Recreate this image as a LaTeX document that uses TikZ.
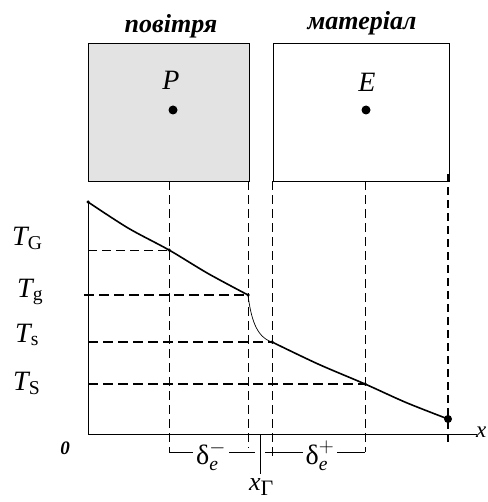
\documentclass[tikz,border=0pt]{standalone}
\usepackage{fontspec}
\setmainfont{Liberation Serif}
\usetikzlibrary{positioning}

\begin{document}
\begin{tikzpicture}[x=1pt, y=-1pt,
  zone/.style={rectangle, draw, line width=0.9pt, minimum height=138pt, inner sep=0pt},
  title/.style={font=\fontsize{26}{30}\selectfont\bfseries\itshape, inner sep=0pt},
  lbl/.style={font=\fontsize{28}{32}\selectfont, inner sep=0pt},
  tlbl/.style={font=\fontsize{28}{32}\selectfont, inner sep=0pt, anchor=base west},
  pt/.style={circle, fill, inner sep=0pt, minimum size=#1},
  guide/.style={dash pattern=on 9pt off 5pt, line width=0.9pt},
  level/.style={dash pattern=on 10pt off 5pt, line width=1.4pt},
  axis/.style={line width=0.9pt},
  prof/.style={line width=1.6pt}
]
  \useasboundingbox (0,0) rectangle (487,502);

  % cells
  \node[zone, fill=black!11, minimum width=161pt] (air) at (168.5,112) {};
  \node[zone, minimum width=176pt] (mat) at (361,112) {};
  \node[title] (airT) at (171,26) {повітря};
  \node[title] (matT) at (362,23) {матеріал};
  \node[lbl, font=\fontsize{28}{30}\selectfont\itshape] (P) at (171,80) {P};
  \node[lbl, font=\fontsize{28}{30}\selectfont\itshape] (E) at (367,82) {E};
  \node[pt=9pt] (Pc) at (173,110) {};
  \node[pt=9pt] (Ec) at (366,110) {};

  % profile points
  \coordinate (o) at (88,434);
  \coordinate (xend) at (477,434);
  \coordinate (b) at (0,452);
  \coordinate (gam) at (260,434);
  \coordinate (c0) at (88,202);
  \coordinate (c1) at (169,250);
  \coordinate (c2) at (248,295);
  \coordinate (c3) at (272,342);
  \coordinate (c4) at (365,384);
  \coordinate (c5) at (448,419);

  % axes
  \draw[axis] (c0) -- (o) -- (xend);
  \node[lbl, font=\fontsize{23}{26}\selectfont\itshape, anchor=west] (xl) at (476,432) {x};
  \node[lbl, font=\fontsize{19}{22}\selectfont\bfseries\itshape] (zero) at (65,448) {0};

  % vertical guides
  \draw[guide] (c1 |- air.south) -- (c1 |- b);
  \draw[guide] (c2 |- air.south) -- ([yshift=4pt]c2 |- b);
  \draw[guide] (c3 |- mat.south) -- ([yshift=-7pt]c3 |- b);
  \draw[guide] (c4 |- mat.south) -- (c4 |- b);
  \draw[level, dash pattern=on 8pt off 5pt] ([yshift=7pt]c5 |- mat.south) -- ([yshift=8pt]c5 |- b);

  % levels
  \draw[guide] (o |- c1) -- (c1);
  \draw[level] ([xshift=-4pt]o |- c2) -- (c2);
  \draw[level] (o |- c3) -- (c3);
  \draw[level] (o |- c4) -- (c4);

  % profile
  \draw[prof] plot[smooth] coordinates {(c0) (128,228) (c1) (208,273.5) (c2)};
  \draw[line width=0.7pt] (c2) .. controls (251,318) and (256,337) .. (c3);
  \draw[prof] plot[smooth] coordinates {(c3) (318,364) (c4) (406,402.5) (c5)};
  \foreach \p in {c0,c1,c2,c3,c4} \node[pt=3.5pt] at (\p) {};
  \node[pt=8pt] (end) at (c5) {};

  \node[tlbl] (TG) at (12,245) {$\mathit{T}_{\mathrm{G}}$};
  \node[tlbl] (Tg) at (17,297) {$\mathit{T}_{\mathrm{g}}$};
  \node[tlbl] (Ts) at (15,342) {$\mathit{T}_{\mathrm{s}}$};
  \node[tlbl] (TS) at (13,390) {$\mathit{T}_{\mathrm{S}}$};

  % widths
  \draw[axis] (c1 |- b) -- ([xshift=-5pt]gam |- b);
  \draw[axis] ([xshift=5pt]gam |- b) -- (c4 |- b);
  \draw[axis] (gam) -- ++(0,40);
  \node[lbl, fill=white, inner xsep=3pt] (dm) at (211,456) {$\mbox{δ}^{-}_{\mathit{e}}$};
  \node[lbl, fill=white, inner xsep=3pt] (dp) at (320,456) {$\mbox{δ}^{+}_{\mathit{e}}$};
  \node[lbl, font=\fontsize{26}{30}\selectfont, anchor=base west] (xg) at (249,490)
    {$\mathit{x}_{\mbox{\fontsize{22}{24}\selectfont Γ}}$};
\end{tikzpicture}
\end{document}
